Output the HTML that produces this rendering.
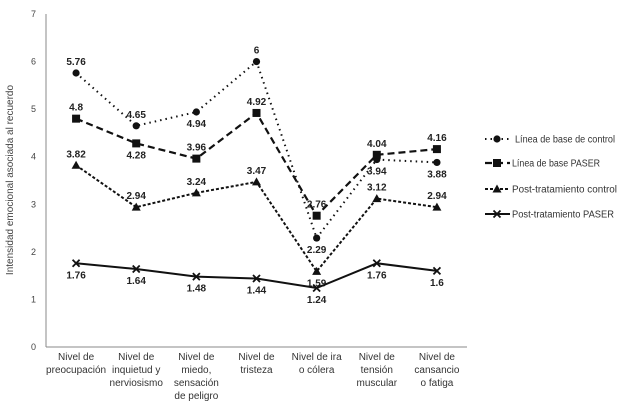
<!DOCTYPE html>
<html><head><meta charset="utf-8"><style>
body{margin:0;background:#fff}
svg text{font-family:"Liberation Sans",sans-serif}
</style></head><body>
<svg id="c" width="624" height="407" xmlns="http://www.w3.org/2000/svg"></svg>
<script>
const categories=[["Nivel de","preocupación"],["Nivel de","inquietud y","nerviosismo"],["Nivel de","miedo,","sensación","de peligro"],["Nivel de","tristeza"],["Nivel de ira","o cólera"],["Nivel de","tensión","muscular"],["Nivel de","cansancio","o fatiga"]];
const baseControl=[5.76,4.65,4.94,6,2.29,3.94,3.88];
const basePaser=[4.8,4.28,3.96,4.92,2.76,4.04,4.16];
const postControl=[3.82,2.94,3.24,3.47,1.59,3.12,2.94];
const postPaser=[1.76,1.64,1.48,1.44,1.24,1.76,1.6];
const baseControlLabelSide=["a","a","b","a","b","b","b"];
const basePaserLabelSide=["a","b","a","a","a","a","a"];
const postControlLabelSide=["a","a","a","a","b","a","a"];
const postPaserLabelSide=["b","b","b","b","b","b","b"];
const yTicks=[0,1,2,3,4,5,6,7];
const seriesNames=["Línea de base de control","Línea de base PASER","Post-tratamiento control","Post-tratamiento PASER"];

const NS="http://www.w3.org/2000/svg";
const svg=document.getElementById('c');
const X0=46,X1=467,Y0=347,Y7=14;
const step=(X1-X0)/categories.length;
const xs=i=>X0+step*(i+0.5);
const ys=v=>Y0-(Y0-Y7)*v/7;
function el(t,a,p){const e=document.createElementNS(NS,t);for(const k in a)e.setAttribute(k,a[k]);(p||svg).appendChild(e);return e;}

let ax=el('line',{x1:X0,y1:Y7,x2:X0,y2:Y0,stroke:'#888','stroke-width':1});


let bx=el('line',{x1:X0,y1:Y0,x2:X1,y2:Y0,stroke:'#888','stroke-width':1});


yTicks.forEach(v=>{const t=el('text',{x:36,y:ys(v)+3,'font-size':9,fill:'#444','text-anchor':'end'});t.textContent=v;

});
const yt=el('text',{x:0,y:0,'font-size':10,fill:'#444','text-anchor':'middle',transform:'translate(13,180) rotate(-90)'});
yt.textContent='Intensidad emocional asociada al recuerdo';


categories.forEach((lines,i)=>{const t=el('text',{x:xs(i),y:360,'font-size':10,fill:'#333','text-anchor':'middle'});


lines.forEach((l,j)=>{const s=el('tspan',{x:xs(i),dy:j?13:0},t);s.textContent=l;});});

function marker(kind,x,y,g){
 if(kind==='circle')return el('circle',{cx:x,cy:y,r:3.6,fill:'#111'},g);
 if(kind==='square')return el('rect',{x:x-4,y:y-4,width:8,height:8,fill:'#111'},g);
 if(kind==='tri')return el('path',{d:`M${x},${y-4.5}L${x+4.5},${y+3.5}L${x-4.5},${y+3.5}Z`,fill:'#111'},g);
 const p=el('path',{d:`M${x-3.5},${y-3.5}L${x+3.5},${y+3.5}M${x+3.5},${y-3.5}L${x-3.5},${y+3.5}`,stroke:'#111','stroke-width':1.8},g);return p;
}
const legendTextW=[100,88,105,102];
const series=[
 {d:baseControl,s:baseControlLabelSide,m:'circle',dash:'1.5 4',w:2,name:'series-base-control'},
 {d:basePaser,s:basePaserLabelSide,m:'square',dash:'7 4',w:2.2,name:'series-base-paser'},
 {d:postControl,s:postControlLabelSide,m:'tri',dash:'3 2',w:2,name:'series-post-control'},
 {d:postPaser,s:postPaserLabelSide,m:'x',dash:'',w:2,name:'series-post-paser'}];
series.forEach((sr,k)=>{
 const g=el('g',{});
 
 
 const pts=sr.d.map((v,i)=>xs(i)+','+ys(v)).join(' ');
 el('polyline',{points:pts,fill:'none',stroke:'#111','stroke-width':sr.w,'stroke-dasharray':sr.dash,'stroke-linecap':sr.dash?'butt':'round'},g);
 sr.d.forEach((v,i)=>{const m=marker(sr.m,xs(i),ys(v),g);
  
  
  const t=el('text',{x:xs(i),y:ys(v)+(sr.s[i]==='a'?-8:15),'font-size':10,'font-weight':'bold',fill:'#222','text-anchor':'middle'},g);
  t.textContent=v;
  
  });
 const ly=[139,163,189,214][k];
 const lg=el('g',{});
 
 
 el('line',{x1:485,y1:ly,x2:510,y2:ly,stroke:'#111','stroke-width':sr.w,'stroke-dasharray':sr.dash},lg);
 marker(sr.m,497,ly,lg);
 const lt=el('text',{x:k===0?515:512,y:ly+3.5,'font-size':10,fill:'#333',textLength:legendTextW[k],lengthAdjust:'spacingAndGlyphs'},lg);lt.textContent=seriesNames[k];
});
</script>
</body></html>
